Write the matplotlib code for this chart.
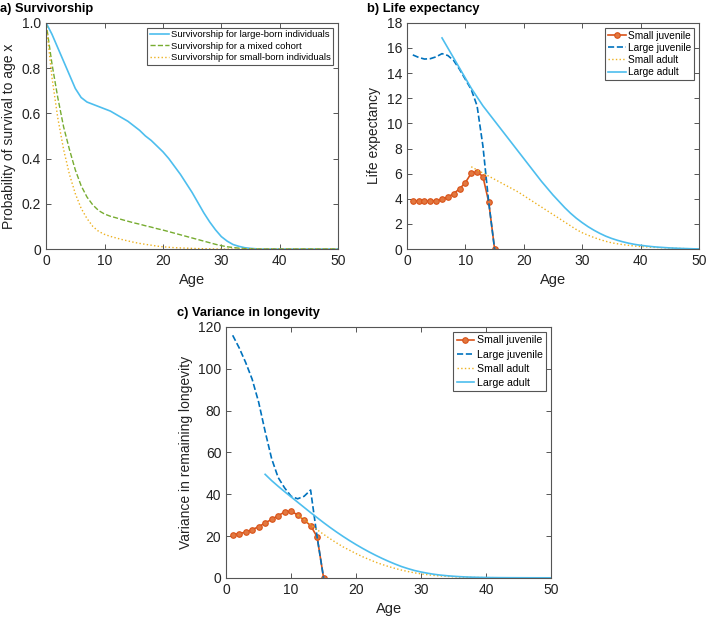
import numpy as np
import matplotlib
matplotlib.use('Agg')
import matplotlib.pyplot as plt

plt.rcParams['font.family'] = ['Liberation Sans', 'DejaVu Sans']

# colours (MATLAB defaults)
C_BLUE = '#0072BD'
C_ORANGE = '#D95319'
C_YELLOW = '#EDB120'
C_GREEN = '#77AC30'
C_LBLUE = '#4DBEEE'

# ---- a) survivorship, ages 0..50 ----
age_a = np.arange(0, 51)
surv_large = [1.0, 0.95, 0.89, 0.83, 0.77, 0.71, 0.67, 0.65, 0.64, 0.63,
              0.62, 0.61, 0.595, 0.58, 0.565, 0.545, 0.525, 0.50, 0.48, 0.455,
              0.43, 0.40, 0.365, 0.33, 0.29, 0.25, 0.205, 0.16, 0.12, 0.085,
              0.055, 0.035, 0.02, 0.012, 0.006, 0.003, 0.001] + [0.0] * 14
surv_mixed = [1.0, 0.82, 0.67, 0.54, 0.44, 0.35, 0.28, 0.23, 0.195, 0.17,
              0.155, 0.145, 0.138, 0.13, 0.123, 0.116, 0.11, 0.103, 0.097, 0.09,
              0.084, 0.077, 0.07, 0.063, 0.056, 0.049, 0.042, 0.035, 0.028, 0.021,
              0.015, 0.01, 0.007, 0.004, 0.002, 0.001] + [0.0] * 15
surv_small = [1.0, 0.76, 0.58, 0.44, 0.33, 0.245, 0.18, 0.135, 0.10, 0.078,
              0.065, 0.056, 0.049, 0.042, 0.036, 0.030, 0.025, 0.021, 0.017, 0.013,
              0.010, 0.008, 0.006, 0.005, 0.004, 0.003, 0.002, 0.0015, 0.001, 0.0005] + [0.0] * 21

# ---- b) life expectancy ----
age_juv = np.arange(1, 16)
age_sad = np.arange(11, 51)
age_lad = np.arange(6, 51)
le_small_juv = [3.84, 3.81, 3.81, 3.81, 3.86, 3.97, 4.13, 4.42, 4.79, 5.29,
                6.03, 6.14, 5.77, 3.73, 0.0]
le_large_juv = [15.45, 15.25, 15.12, 15.15, 15.3, 15.55, 15.4, 15.0, 14.3, 13.5,
                12.7, 11.4, 8.2, 3.7, 0.0]
le_small_ad = [6.55, 6.3, 6.05, 5.8, 5.55, 5.3, 5.05, 4.8, 4.55, 4.25,
               3.95, 3.65, 3.35, 3.05, 2.75, 2.45, 2.15, 1.85, 1.55, 1.3,
               1.1, 0.92, 0.76, 0.62, 0.5, 0.42, 0.35, 0.29, 0.24, 0.2,
               0.17, 0.14, 0.12, 0.1, 0.08, 0.06, 0.045, 0.03, 0.02, 0.01]
le_large_ad = [16.8, 16.0, 15.2, 14.4, 13.6, 12.8, 12.1, 11.4, 10.8, 10.2,
               9.6, 9.0, 8.4, 7.8, 7.2, 6.6, 6.0, 5.4, 4.85, 4.3,
               3.8, 3.3, 2.85, 2.45, 2.1, 1.78, 1.5, 1.25, 1.03, 0.85,
               0.7, 0.57, 0.46, 0.37, 0.3, 0.24, 0.19, 0.15, 0.12, 0.09,
               0.07, 0.05, 0.035, 0.02, 0.01]

# ---- c) variance in longevity ----
var_small_juv = [20.6, 21.2, 21.8, 23.1, 24.4, 26.3, 27.9, 29.8, 31.4, 32.0,
                 30.0, 27.6, 25.0, 19.6, 0.0]
var_large_juv = [116, 110, 103, 95, 84, 70, 57, 48, 43, 39,
                 37.8, 39, 42, 19.6, 0.0]
var_small_ad = [30, 28, 25.5, 23, 20.8, 18.7, 16.7, 14.8, 13.2, 11.6,
                10.1, 8.8, 7.5, 6.4, 5.4, 4.5, 3.7, 3.0, 2.4, 1.9,
                1.5, 1.15, 0.9, 0.7, 0.5, 0.38, 0.28, 0.2, 0.15, 0.1,
                0.08, 0.06, 0.05, 0.04, 0.03, 0.02, 0.015, 0.01, 0.008, 0.005]
var_large_ad = [49.5, 46.5, 43.8, 41.2, 38.7, 36.2, 33.7, 31.2, 28.8, 26.4,
                24.1, 21.9, 19.8, 17.8, 15.9, 14.1, 12.4, 10.8, 9.3, 7.9,
                6.6, 5.4, 4.4, 3.5, 2.8, 2.2, 1.7, 1.3, 1.0, 0.75,
                0.55, 0.4, 0.3, 0.22, 0.16, 0.12, 0.09, 0.07, 0.05, 0.04,
                0.03, 0.02, 0.015, 0.01, 0.005]

stage_labels = ['Small juvenile', 'Large juvenile', 'Small adult', 'Large adult']


def style_axes(ax):
    for s in ax.spines.values():
        s.set_color('#555555')
        s.set_linewidth(0.8)
    ax.tick_params(direction='in', top=True, right=True, length=3.5,
                   width=0.7, color='#555555', labelsize=10, labelcolor='#222222')
    ax.set_xlabel('Age', fontsize=10.5, color='#222222')


def frame_legend(leg):
    leg.get_frame().set_edgecolor('#555555')
    leg.get_frame().set_linewidth(0.8)


def stage_panel(ax, juv_s, juv_l, ad_s, ad_l, fs, spacing):
    ax.plot(age_juv, juv_s, '-o', color=C_ORANGE, lw=1.2, ms=4,
            mfc='#E2773F', mec=C_ORANGE, mew=0.8, label=stage_labels[0])
    ax.plot(age_juv, juv_l, '--', color=C_BLUE, lw=1.2, label=stage_labels[1])
    ax.plot(age_sad, ad_s, ':', color=C_YELLOW, lw=1.0, label=stage_labels[2])
    ax.plot(age_lad, ad_l, '-', color=C_LBLUE, lw=1.2, label=stage_labels[3])
    leg = ax.legend(loc='upper right', fontsize=fs, handlelength=1.7,
                    borderpad=0.3, labelspacing=spacing, handletextpad=0.2,
                    borderaxespad=0.5, fancybox=False, framealpha=1)
    frame_legend(leg)


fig = plt.figure(figsize=(7.09, 6.18), dpi=100)

# a) survivorship
ax1 = fig.add_axes([0.065, 0.597, 0.412, 0.366])
ax1.plot(age_a, surv_large, '-', color=C_LBLUE, lw=1.2,
         label='Survivorship for large-born individuals')
ax1.plot(age_a, surv_mixed, '--', color=C_GREEN, lw=1.0,
         label='Survivorship for a mixed cohort')
ax1.plot(age_a, surv_small, ':', color=C_YELLOW, lw=1.0,
         label='Survivorship for small-born individuals')
ax1.set_xlim(0, 50)
ax1.set_ylim(0, 1)
ax1.set_xticks(np.arange(0, 51, 10))
ax1.set_yticks([0, 0.2, 0.4, 0.6, 0.8, 1.0])
ax1.set_yticklabels(['0', '0.2', '0.4', '0.6', '0.8', '1.0'])
ax1.set_ylabel('Probability of survival to age x', fontsize=10, color='#222222')
style_axes(ax1)
leg = ax1.legend(loc='upper right', fontsize=6.8, handlelength=2.0,
                 borderpad=0.3, labelspacing=0.25, handletextpad=0.2,
                 fancybox=False, framealpha=1)
frame_legend(leg)
fig.text(0.0, 0.985, 'a) Survivorship', fontsize=9.3, fontweight='bold',
         ha='left', va='center')

# b) life expectancy
ax2 = fig.add_axes([0.574, 0.597, 0.412, 0.366])
stage_panel(ax2, le_small_juv, le_large_juv, le_small_ad, le_large_ad, 7.3, 0.2)
ax2.set_xlim(0, 50)
ax2.set_ylim(0, 18)
ax2.set_xticks(np.arange(0, 51, 10))
ax2.set_yticks(np.arange(0, 19, 2))
ax2.set_ylabel('Life expectancy', fontsize=10, color='#222222')
style_axes(ax2)
fig.text(0.518, 0.985, 'b) Life expectancy', fontsize=9.3, fontweight='bold',
         ha='left', va='center')

# c) variance in longevity
ax3 = fig.add_axes([0.319, 0.065, 0.458, 0.406])
stage_panel(ax3, var_small_juv, var_large_juv, var_small_ad, var_large_ad, 7.6, 0.4)
ax3.set_xlim(0, 50)
ax3.set_ylim(0, 120)
ax3.set_xticks(np.arange(0, 51, 10))
ax3.set_yticks(np.arange(0, 121, 20))
ax3.set_ylabel('Variance in remaining longevity', fontsize=10, color='#222222')
style_axes(ax3)
fig.text(0.25, 0.494, 'c) Variance in longevity', fontsize=9.3, fontweight='bold',
         ha='left', va='center')

fig.savefig('out.png', dpi=100)
